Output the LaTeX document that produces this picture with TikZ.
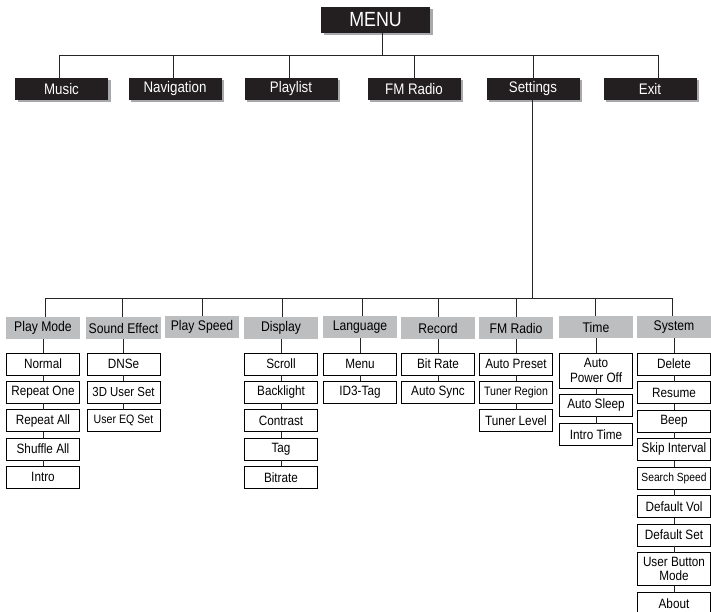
\documentclass[tikz,border=0pt]{standalone}
\usepackage{fontspec}
\setmainfont{Liberation Sans}[FakeStretch=0.87]
\usetikzlibrary{positioning, shadows}

\definecolor{boxblack}{HTML}{231F20}
\definecolor{shadowgray}{HTML}{A7A9AC}
\definecolor{headgray}{HTML}{BCBEC0}

\begin{document}
\begin{tikzpicture}[
		x=1pt, y=1pt,
		topbox/.style={fill=boxblack, text=white, minimum width=93pt, minimum height=22pt, inner sep=0pt,
			outer sep=0pt, font=\fontsize{15.3}{17}\selectfont,
			drop shadow={shadow xshift=2.5pt, shadow yshift=-2.5pt, fill=shadowgray, opacity=1}},
		menubox/.style={topbox, minimum width=109pt, minimum height=26pt, font=\fontsize{20.5}{22}\selectfont},
		groupbox/.style={fill=headgray, minimum width=74pt, minimum height=22pt, inner sep=0pt,
			outer sep=0pt, font=\fontsize{14}{16}\selectfont},
		itembox/.style={draw=black, line width=0.8pt, fill=white, minimum width=73pt, minimum height=22pt,
			inner sep=0pt, outer sep=0pt, align=center, font=\fontsize{13.5}{14.5}\selectfont},
		small/.style={font=\fontsize{12.2}{14}\selectfont},
		link/.style={draw=black!85, line width=0.8pt}
		]
		
		\useasboundingbox (0,0) rectangle (711,-612);
		
		% Top: main menu
		\node[menubox] (menu) at (375.5,-20) {MENU};
		\node[topbox] (music) at (61.5,-89) {Music};
		\node[topbox] (navigation) at (175,-89) {Navigation};
		\node[topbox] (playlist) at (291,-89) {Playlist};
		\node[topbox] (fmradio) at (414,-89) {FM Radio};
		\node[topbox] (settings) at (533,-89) {Settings};
		\node[topbox] (exit) at (650,-89) {Exit};
		
		\draw[link] ([xshift=7pt]menu.south) -- ++(0,-22);
		\draw[link] ([xshift=-2pt]music.north) -- ++(0,23) -| ([xshift=8pt]exit.north);
		\draw[link] ([xshift=-2pt]navigation.north) -- ++(0,23);
		\draw[link] ([xshift=-2pt]playlist.north) -- ++(0,23);
		\draw[link] (fmradio.north) -- ++(0,23);
		\draw[link] (settings.north) -- ++(0,23);
		
		% Middle: settings groups
		\node[groupbox] (playmode) at (43,-328) {Play Mode};
		\node[groupbox, minimum width=75pt] (soundeffect) at (123.5,-328) {Sound Effect};
		\node[groupbox] (playspeed) at (202,-327) {Play Speed};
		\node[groupbox] (display) at (281,-328) {Display};
		\node[groupbox] (language) at (360,-327) {Language};
		\node[groupbox] (record) at (438,-328) {Record};
		\node[groupbox] (tuner) at (516,-328) {FM Radio};
		\node[groupbox] (time) at (596,-327) {Time};
		\node[groupbox] (system) at (674,-327) {System};
		
		\draw[link] ([xshift=-1pt]settings.south) -- ++(0,-198);
		\draw[link] ([xshift=2pt]playmode.north) -- ++(0,19) -| ([xshift=-2pt]system.north);
		\draw[link] ([xshift=-1.5pt]soundeffect.north) -- ++(0,19);
		\draw[link] (playspeed.north) -- ++(0,18);
		\draw[link] ([xshift=1pt]display.north) -- ++(0,19);
		\draw[link] ([xshift=2pt]language.north) -- ++(0,18);
		\draw[link] (record.north) -- ++(0,19);
		\draw[link] (tuner.north) -- ++(0,19);
		\draw[link] ([xshift=-1pt]time.north) -- ++(0,18);
		
		% Play Mode
		\node[itembox, below=14pt of playmode] (normal) {Normal};
		\node[itembox, below=6.3pt of normal] (repeatone) {Repeat One};
		\node[itembox, below=6.3pt of repeatone] (repeatall) {Repeat All};
		\node[itembox, below=6.3pt of repeatall] (shuffleall) {Shuffle All};
		\node[itembox, below=6.3pt of shuffleall] (intro) {Intro};
		\draw[link] (playmode.south) -- (normal.north);
		\draw[link] (normal.south) -- (repeatone.north);
		\draw[link] (repeatone.south) -- (repeatall.north);
		\draw[link] (repeatall.south) -- (shuffleall.north);
		\draw[link] (shuffleall.south) -- (intro.north);
		
		% Sound Effect
		\node[itembox, below=14pt of soundeffect] (dnse) {DNSe};
		\node[itembox, font=\fontsize{13.1}{14}\selectfont, below=6.3pt of dnse] (usersetd) {3D User Set};
		\node[itembox, small, below=6.3pt of usersetd] (usereq) {User EQ Set};
		\draw[link] (soundeffect.south) -- (dnse.north);
		\draw[link] (dnse.south) -- (usersetd.north);
		\draw[link] (usersetd.south) -- (usereq.north);
		
		% Display
		\node[itembox, below=14pt of display] (scroll) {Scroll};
		\node[itembox, below=6.3pt of scroll] (backlight) {Backlight};
		\node[itembox, below=6.3pt of backlight] (contrast) {Contrast};
		\node[itembox, below=6.3pt of contrast] (tag) {Tag};
		\node[itembox, below=6.3pt of tag] (bitrate) {Bitrate};
		\draw[link] (display.south) -- (scroll.north);
		\draw[link] (scroll.south) -- (backlight.north);
		\draw[link] (backlight.south) -- (contrast.north);
		\draw[link] (contrast.south) -- (tag.north);
		\draw[link] (tag.south) -- (bitrate.north);
		
		% Language
		\node[itembox, below=15pt of language] (langmenu) {Menu};
		\node[itembox, below=6.3pt of langmenu] (idtag) {ID3-Tag};
		\draw[link] (language.south) -- (langmenu.north);
		\draw[link] (langmenu.south) -- (idtag.north);
		
		% Record
		\node[itembox, below=14pt of record] (bitratesel) {Bit Rate};
		\node[itembox, below=6.3pt of bitratesel] (autosync) {Auto Sync};
		\draw[link] (record.south) -- (bitratesel.north);
		\draw[link] (bitratesel.south) -- (autosync.north);
		
		% FM Radio
		\node[itembox, below=14pt of tuner] (autopreset) {Auto Preset};
		\node[itembox, small, below=6.3pt of autopreset] (tunerregion) {Tuner Region};
		\node[itembox, below=6.3pt of tunerregion] (tunerlevel) {Tuner Level};
		\draw[link] (tuner.south) -- (autopreset.north);
		\draw[link] (autopreset.south) -- (tunerregion.north);
		\draw[link] (tunerregion.south) -- (tunerlevel.north);
		
		% Time
		\node[itembox, minimum height=35pt, below=15pt of time] (autopower) {Auto\\Power Off};
		\node[itembox, below=6pt of autopower] (autosleep) {Auto Sleep};
		\node[itembox, below=7.5pt of autosleep] (introtime) {Intro Time};
		\draw[link] (time.south) -- (autopower.north);
		\draw[link] (autopower.south) -- (autosleep.north);
		\draw[link] (autosleep.south) -- (introtime.north);
		
		% System
		\node[itembox, below=15pt of system] (delete) {Delete};
		\node[itembox, below=6.5pt of delete] (resume) {Resume};
		\node[itembox, below=6.5pt of resume] (beep) {Beep};
		\node[itembox, below=6.5pt of beep] (skip) {Skip Interval};
		\node[itembox, font=\fontsize{11.8}{13}\selectfont, below=6.5pt of skip] (search) {Search Speed};
		\node[itembox, below=6.5pt of search] (defvol) {Default Vol};
		\node[itembox, below=6.5pt of defvol] (defset) {Default Set};
		\node[itembox, minimum height=33pt, below=6.5pt of defset] (userbutton) {User Button\\Mode};
		\node[itembox, below=7pt of userbutton] (about) {About};
		\draw[link] (system.south) -- (delete.north);
		\draw[link] (delete.south) -- (resume.north);
		\draw[link] (resume.south) -- (beep.north);
		\draw[link] (beep.south) -- (skip.north);
		\draw[link] (skip.south) -- (search.north);
		\draw[link] (search.south) -- (defvol.north);
		\draw[link] (defvol.south) -- (defset.north);
		\draw[link] (defset.south) -- (userbutton.north);
		\draw[link] (userbutton.south) -- (about.north);
		
	\end{tikzpicture}
\end{document}
